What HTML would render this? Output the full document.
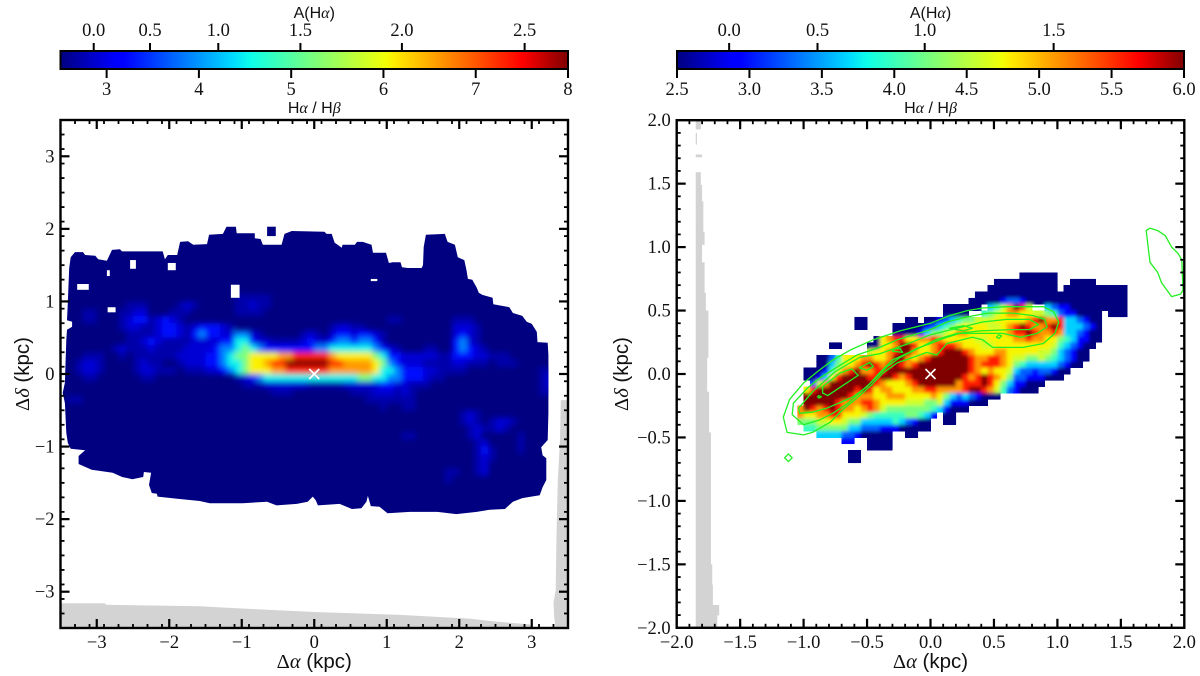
<!DOCTYPE html>
<html lang="en">
<head>
<meta charset="utf-8">
<title>Balmer decrement maps</title>
<style>
html,body{margin:0;padding:0;background:#fff}
svg{display:block}
text{font-family:"Liberation Serif",serif;fill:#111}
.sans{font-family:"Liberation Sans",sans-serif}
.it{font-style:italic;font-family:"Liberation Serif",serif}
</style>
</head>
<body>
<svg id="chart" xmlns="http://www.w3.org/2000/svg" width="1200" height="676" viewBox="0 0 1200 676">
  <defs>
    <filter id="blurL" filterUnits="userSpaceOnUse" x="0" y="200" width="600" height="400"><feGaussianBlur stdDeviation="3"/></filter>
    <filter id="blurR" filterUnits="userSpaceOnUse" x="700" y="200" width="500" height="300"><feGaussianBlur stdDeviation="1.9"/></filter>
    <linearGradient id="jetGrad" x1="0" x2="1" y1="0" y2="0">
      <stop offset="0" stop-color="#000080"/><stop offset="0.11" stop-color="#0000ff"/><stop offset="0.125" stop-color="#0000ff"/>
      <stop offset="0.34" stop-color="#00dbff"/><stop offset="0.375" stop-color="#0dffe9"/><stop offset="0.5" stop-color="#7bff7b"/>
      <stop offset="0.64" stop-color="#f1ff06"/><stop offset="0.66" stop-color="#ffea00"/><stop offset="0.89" stop-color="#ff1300"/>
      <stop offset="0.91" stop-color="#ff0000"/><stop offset="1" stop-color="#800000"/>
    </linearGradient>
    <clipPath id="clipL"><rect x="60" y="120" width="508" height="508"/></clipPath>
    <clipPath id="clipR"><rect x="677" y="120" width="507" height="508"/></clipPath>
    <clipPath id="shapeL"></clipPath>
    <clipPath id="shapeR"></clipPath>
  </defs>
</svg>
<script>
// ---------- colour-scale data ----------
const leftRatioTicks = [3,4,5,6,7,8];
const leftRatioLabels = ["3","4","5","6","7","8"];
const rightRatioTicks = [2.5,3,3.5,4,4.5,5,5.5,6];
const rightRatioLabels = ["2.5","3.0","3.5","4.0","4.5","5.0","5.5","6.0"];
const leftExtinctionAt = [2.86,3.47,4.21,5.1,6.2,7.53];
const leftExtinctionLabels = ["0.0","0.5","1.0","1.5","2.0","2.5"];
const rightExtinctionAt = [2.86,3.47,4.21,5.1];
const rightExtinctionLabels = ["0.0","0.5","1.0","1.5"];
// ---------- axis ticks ----------
const leftAxisTicks = [-3,-2,-1,0,1,2,3];
const rightAxisTicks = [-2,-1.5,-1,-0.5,0,0.5,1,1.5,2];
// ---------- left map: Halpha/Hbeta levels (one char per 0.1 kpc cell) ----------
const leftLevelRatio = [2.5,2.7,2.9,3.25,3.9,4.5,5.25,6.1,6.6,7.3,8];
const leftRows = [
"0000000000 0000000000 0000111110",
"0000000001 1100001210 0000112110",
"0001100011 2200011100 0000111100",
"0001100012 3312321000 0000000000 0000000000 0000011000 0000111000",
"0000000012 2112332123 3321000000 0000000122 1100000000 0000222100",
"0000000001 1112332134 3322442100 0001210233 2332100000 0000232100",
"0000000001 1232111122 2233553221 1112322344 3443100000 0000342100",
"0000000121 1121111222 2344565433 3333344555 5554321000 1100343210",
"0001110010 1111112222 3345667777 8899999877 7776533222 2211333221 11",
"0012210000 1211001222 3345567789 9aaaaaa998 8887643222 1111221110 111",
"0012210000 1221110111 2234567778 8999999888 8887554333 2211110000 00000011",
"0001100000 0110000000 0000123455 5555555555 5665544333 2110000000 00000012",
"0000000000 0000000000 0000011122 2222111112 2222332211 1000000000 00000012",
"0000000000 0000000000 0000000001 1100000000 1112221210 0000000000 00000011",
"0110000000 0000000000 0000000000 0000000000 0011111110",
"0000000000 0000000000 0000000000 0000000000 0000100110",
"0000000000 0000000000 0000000000 0000000000 0000000000 0000012100",
"0000000000 0000000000 0000000000 0000000000 0000000000 0000012101 221",
"0000000000 0000000000 0000000000 0000000000 0000000000 0000001211 21",
"0000000000 0000000000 0000000000 0000000000 0000000110 0000001200 0001",
"0000000000 0000000000 0000000000 0000000000 0000000000 0000000120 0001",
"0000000000 0000000000 0000000000 0000000000 0000000000 0000000131 0001",
"0000000000 0000000000 0000000000 0000000000 0000000000 0000000121",
"0000000000 0000000000 0000000000 0000000000 0000000000 0000000120",
"0000000000 0000000000 0000000000 0000000000 0000000000 0001100120",
"0000000000 0000000000 0000000000 0000000000 0000000000 0001000000"
];
// left map silhouette, kpc
const leftOutline = [[-3.36,1.61],[-3.30,1.68],[-3.19,1.68],[-3.16,1.64],[-3.02,1.63],[-2.98,1.58],[-2.86,1.56],[-2.79,1.71],[-2.68,1.72],[-2.65,1.69],[-2.45,1.69],[-2.09,1.69],[-2.06,1.58],[-2.02,1.64],[-1.89,1.64],[-1.85,1.82],[-1.74,1.83],[-1.67,1.78],[-1.48,1.79],[-1.45,1.92],[-1.26,1.93],[-1.21,2.03],[-1.08,2.03],[-1.07,1.94],[-0.82,1.94],[-0.82,1.87],[-0.74,1.86],[-0.71,1.78],[-0.45,1.78],[-0.41,1.93],[-0.31,1.97],[0.14,1.96],[0.17,1.93],[0.24,1.93],[0.28,1.81],[0.38,1.74],[0.39,1.78],[0.56,1.78],[0.59,1.82],[0.67,1.82],[0.79,1.78],[0.81,1.67],[0.99,1.67],[1.03,1.53],[1.08,1.54],[1.19,1.54],[1.21,1.47],[1.29,1.46],[1.48,1.46],[1.50,1.50],[1.51,1.75],[1.54,1.92],[1.80,1.93],[1.84,1.82],[1.94,1.78],[1.98,1.61],[2.07,1.57],[2.10,1.43],[2.12,1.31],[2.18,1.30],[2.24,1.19],[2.27,1.12],[2.32,1.09],[2.46,1.05],[2.47,0.96],[2.69,0.92],[2.74,0.84],[2.87,0.80],[2.93,0.72],[3.00,0.69],[3.07,0.58],[3.08,0.44],[3.22,0.43],[3.23,0.26],[3.23,-0.54],[3.22,-0.91],[3.13,-1.01],[3.15,-1.12],[3.20,-1.16],[3.20,-1.46],[3.15,-1.56],[3.11,-1.67],[2.87,-1.71],[2.74,-1.76],[2.63,-1.86],[2.42,-1.87],[2.24,-1.90],[1.96,-1.93],[1.70,-1.90],[1.32,-1.90],[1.01,-1.92],[0.90,-1.83],[0.78,-1.82],[0.74,-1.68],[0.72,-1.76],[0.65,-1.85],[0.52,-1.86],[0.35,-1.79],[0.05,-1.81],[0.02,-1.74],[-0.02,-1.69],[-0.09,-1.76],[-0.24,-1.79],[-0.52,-1.81],[-0.65,-1.76],[-0.99,-1.78],[-1.44,-1.78],[-1.58,-1.75],[-1.89,-1.72],[-2.16,-1.69],[-2.17,-1.65],[-2.24,-1.64],[-2.28,-1.53],[-2.25,-1.36],[-2.35,-1.35],[-2.36,-1.42],[-2.51,-1.45],[-2.65,-1.42],[-2.78,-1.36],[-3.07,-1.32],[-3.16,-1.28],[-3.25,-1.24],[-3.25,-1.13],[-3.16,-1.05],[-3.36,-1.03],[-3.40,-0.95],[-3.42,-0.81],[-3.44,-0.40],[-3.47,-0.26],[-3.44,-0.12],[-3.42,0.47],[-3.41,0.61],[-3.34,0.65],[-3.34,0.72],[-3.41,0.74],[-3.40,0.98],[-3.38,1.46]];
const leftIsland = [[-0.65,2.03],[-0.53,2.03],[-0.53,1.90],[-0.65,1.90]];
const leftHoles = [[-2.54,1.57,-2.46,1.45],[-3.27,1.24,-3.11,1.16],[-2.86,1.43,-2.82,1.35],[-2.02,1.53,-1.91,1.43],[-1.15,1.23,-1.03,1.05],[-2.85,0.92,-2.74,0.85],[0.78,1.31,0.87,1.28]];
const leftGreyBand = [[-3.5,-3.16],[-2.89,-3.16],[-2.87,-3.18],[-1.58,-3.20],[-1.03,-3.23],[0,-3.28],[1.18,-3.32],[2.14,-3.37],[2.49,-3.41],[2.97,-3.45],[3.03,-3.5],[-3.5,-3.5]];
const leftGreyStrip = [[3.40,-0.36],[3.39,-0.91],[3.36,-1.46],[3.34,-2.29],[3.33,-2.98],[3.30,-3.15],[3.31,-3.35],[3.33,-3.5],[3.5,-3.5],[3.5,-0.36]];
// ---------- right map: Halpha/Hbeta levels (one char per 0.05 kpc cell) ----------
const rightLevelRatio = [2.5,2.9,3.27,3.65,3.97,4.25,4.6,4.78,5.13,5.58,6];
const rightRows = [
".......... .......... .......... .......000 000",
".......... .......... .......... ...0000000 000..0000.",
".......... .......... .......... ..00000000 000.000000 0000",
".......... .......... .......... 0000000000 0000000000 0000",
".......... .......... .........0 0000122100 0000000000 0000",
".......... .......... .....00000 0.3468a96. .321100000 0000",
".......... .......... .....0000. .456788776 6542110000 .000",
".......... .00......0 0.00123455 6667777789 a889332100",
".......... .00....000 0012345677 7766789a98 89a9333210",
".......... .......000 0135567887 77777899a9 8898332100",
".......... ....078997 7889877777 6677778898 8775431100",
".......00. ...00778aa 9778999877 7667777777 776432100.",
".......... ...67789aa 87789aaa98 7778877777 66532100..",
".....00247 7788778aa8 789aaaaaa9 8899876655 65432100..",
".....00356 789a989a98 9aaaaaaaa9 8999875433 3332100...",
"...0001468 9a8899aaaa aaaaaaaaa9 8787763221 22100.....",
"...001379a aaa99aa989 aaaaaaaa98 9a98752211 1000......",
"....268aaa aaaa987778 9aaaaaa899 9a97531100 0.........",
"...79aaaaa a9a9788777 889988889a a986421000",
"...aaaaaaa 9888778887 7778753232 1000......",
"...aaaaa98 8899877776 6655631110 00........",
"..8a989a98 8789865555 555431000.",
"..87788997 7765444445 5431.00...",
"..55566776 5533333432 100..00...",
"...4455555 3322211100 000.......",
".....33332 2100000..0 0.........",
".........1 1..0000...",
".......... ...0000...",
".......... 00........",
".......... 00........"
];
const rightGreyEdgeY = [2.0,1.93,1.90,1.81,1.73,1.71,1.59,1.49,1.36,1.12,1.02,0.88,0.64,0.5,0.13,-0.14,-0.46,-0.7,-1.5,-1.66,-1.82,-1.9,-2.0];
const rightGreyEdgeX = [-1.81,null,-1.84,null,-1.80,null,-1.81,-1.80,-1.79,-1.78,-1.80,-1.78,-1.77,-1.75,-1.76,-1.745,-1.73,-1.73,-1.72,-1.715,-1.665,-1.68];
// ---------- CO contours, kpc ----------
const contourOuter = [[-1.13,-0.46],[-1.16,-0.34],[-1.11,-0.20],[-1.00,-0.07],[-0.89,0.02],[-0.77,0.11],[-0.63,0.19],[-0.45,0.27],[-0.24,0.34],[0,0.40],[0.15,0.46],[0.29,0.50],[0.41,0.52],[0.60,0.53],[0.89,0.53],[0.97,0.49],[1.01,0.41],[0.98,0.32],[0.89,0.24],[0.73,0.21],[0.49,0.21],[0.41,0.27],[0.33,0.29],[0.13,0.24],[0.05,0.15],[-0.03,0.17],[-0.14,0.13],[-0.26,0.09],[-0.37,0.01],[-0.48,-0.10],[-0.58,-0.19],[-0.69,-0.28],[-0.79,-0.38],[-0.93,-0.46],[-1.00,-0.48]];
const contourMiddle = [[-1.00,-0.40],[-1.09,-0.32],[-1.08,-0.23],[-0.97,-0.11],[-0.87,-0.03],[-0.71,0.07],[-0.58,0.15],[-0.40,0.21],[-0.26,0.27],[0,0.35],[0.13,0.41],[0.29,0.45],[0.45,0.48],[0.65,0.48],[0.81,0.46],[0.90,0.43],[0.92,0.37],[0.84,0.32],[0.71,0.29],[0.57,0.32],[0.39,0.32],[0.23,0.32],[0.10,0.28],[0,0.24],[-0.11,0.20],[-0.24,0.13],[-0.34,0.06],[-0.45,-0.05],[-0.56,-0.15],[-0.65,-0.23],[-0.77,-0.31],[-0.87,-0.36]];
const contourInner = [[-1.03,-0.31],[-1.04,-0.27],[-0.93,-0.14],[-0.75,0.02],[-0.56,0.13],[-0.40,0.16],[-0.20,0.23],[0,0.31],[0.21,0.36],[0.41,0.41],[0.60,0.43],[0.78,0.43],[0.85,0.39],[0.78,0.35],[0.63,0.35],[0.39,0.34],[0.21,0.32],[0.04,0.27],[-0.12,0.19],[-0.30,0.11],[-0.40,0.01],[-0.50,-0.10],[-0.61,-0.18],[-0.70,-0.22],[-0.82,-0.27],[-0.93,-0.30]];
const contourLobe = [[-0.85,-0.15],[-0.81,-0.17],[-0.57,-0.01],[-0.62,0.04],[-0.71,0.01],[-0.85,-0.10]];
const contourKnotA = [[-0.56,0.05],[-0.50,0.03],[-0.45,0.06],[-0.48,0.09]];
const contourKnotB = [[-0.30,0.18],[-0.22,0.17],[-0.24,0.20],[-0.28,0.20]];
const contourKnotC = [[0.15,0.36],[0.26,0.34],[0.33,0.36],[0.26,0.38]];
const contourKnotD = [[0.52,0.29],[0.54,0.28],[0.56,0.30],[0.54,0.31]];
const contourKnotE = [[-1.15,-0.66],[-1.12,-0.69],[-1.09,-0.66],[-1.12,-0.63]];
const contourKnotF = [[-0.89,-0.18],[-0.88,-0.19],[-0.86,-0.18],[-0.88,-0.17]];
const contourEast = [[1.70,1.13],[1.73,1.15],[1.79,1.13],[1.85,1.09],[1.90,1.00],[1.95,0.95],[1.98,0.90],[1.99,0.66],[1.97,0.63],[1.90,0.61],[1.82,0.72],[1.79,0.80],[1.73,0.88]];

// ---------- axis functions ----------
const svg = document.getElementById('chart');
const NS = 'http://www.w3.org/2000/svg';
const xL = k => 60.5 + (k + 3.5) * 507.5 / 7;
const yL = k => 374 - k * 72.57;
const xR = k => 930.5 + k * 126.9;
const yR = k => 374 - k * 126.9;
const barL = r => 60.5 + (r - 2.5) * 507.5 / 5.5;
const barR = r => 677 + (r - 2.5) * 507 / 3.5;

function jet(t) {
  t = Math.max(0, Math.min(1, t));
  const ch = (pts) => {
    for (let i = 1; i < pts.length; i++) {
      if (t <= pts[i][0]) {
        const a = pts[i - 1], b = pts[i];
        return a[1] + (b[1] - a[1]) * (t - a[0]) / (b[0] - a[0]);
      }
    }
    return pts[pts.length - 1][1];
  };
  const r = ch([[0,0],[0.35,0],[0.66,1],[0.89,1],[1,0.5]]);
  const g = ch([[0,0],[0.125,0],[0.375,1],[0.64,1],[0.91,0],[1,0]]);
  const b = ch([[0,0.5],[0.11,1],[0.34,1],[0.65,0],[1,0]]);
  return 'rgb(' + Math.round(r * 255) + ',' + Math.round(g * 255) + ',' + Math.round(b * 255) + ')';
}
function make(tag, attrs, parent) {
  const el = document.createElementNS(NS, tag);
  for (const k in attrs) el.setAttribute(k, attrs[k]);
  (parent || svg).appendChild(el);
  return el;
}
function polyPoints(list, fx, fy) {
  return list.map(p => fx(p[0]).toFixed(1) + ',' + fy(p[1]).toFixed(1)).join(' ');
}
function label(txt, x, y, anchor, name, parent) {
  const t = make('text', {x: x, y: y, 'text-anchor': anchor, 'font-size': 18.5}, parent);
  t.textContent = txt;
  
  
  return t;
}
function fmtTick(v, decimals) {
  const s = Math.abs(v).toFixed(decimals);
  return (v < 0 ? '\u2212' : '') + s;
}
function richText(parts, x, y, size, anchor, name, rotate) {
  const t = make('text', {x: x, y: y, 'text-anchor': anchor, 'font-size': size});
  if (rotate) t.setAttribute('transform', 'rotate(-90 ' + x + ' ' + y + ')');
  
  
  parts.forEach(p => {
    const s = document.createElementNS(NS, 'tspan');
    s.setAttribute('class', p[1]);
    s.textContent = p[0];
    t.appendChild(s);
  });
  return t;
}

// ---------- colour bars ----------
function colorbar(side, x0, x1, scale, botTicks, botLabels, topAt, topLabels) {
  const g = make('g', {});
  
  
  const r = make('rect', {x: x0, y: 51, width: x1 - x0, height: 18, fill: 'url(#jetGrad)', stroke: '#000', 'stroke-width': 2}, g);
  
  
  botTicks.forEach((v, i) => {
    const x = scale(v);
    const t = make('line', {x1: x, x2: x, y1: 69, y2: 78, stroke: '#000', 'stroke-width': 2}, g);
    
    
    label(botLabels[i], x, 95, 'middle', side + '-ratio-tick-label', g);
  });
  topAt.forEach((v, i) => {
    const x = scale(v);
    const t = make('line', {x1: x, x2: x, y1: 43, y2: 51, stroke: '#000', 'stroke-width': 2}, g);
    
    
    label(topLabels[i], x, 36, 'middle', side + '-extinction-tick-label', g);
  });
  const cx = (x0 + x1) / 2;
  richText([['A(H', 'sans'], ['\u03b1', 'it'], [')', 'sans']], cx, 18, 16, 'middle', side + '-extinction-title');
  richText([['H', 'sans'], ['\u03b1', 'it'], [' / H', 'sans'], ['\u03b2', 'it']], cx, 113, 16, 'middle', side + '-ratio-title');
}
colorbar('left', 60.5, 568, barL, leftRatioTicks, leftRatioLabels, leftExtinctionAt, leftExtinctionLabels);
colorbar('right', 677, 1184, barR, rightRatioTicks, rightRatioLabels, rightExtinctionAt, rightExtinctionLabels);

// ---------- left panel ----------
const leftPanel = make('g', {'clip-path': 'url(#clipL)'});


const leftBand = make('polygon', {points: polyPoints(leftGreyBand, xL, yL), fill: '#d3d3d3'}, leftPanel);


const leftStrip = make('polygon', {points: polyPoints(leftGreyStrip, xL, yL), fill: '#d3d3d3'}, leftPanel);


const leftBase = make('polygon', {points: polyPoints(leftOutline, xL, yL), fill: jet(0)}, leftPanel);


const leftIsle = make('polygon', {points: polyPoints(leftIsland, xL, yL), fill: jet(0)}, leftPanel);


make('polygon', {points: polyPoints(leftOutline, xL, yL)}, document.getElementById('shapeL'));
const leftClipWrap = make('g', {'clip-path': 'url(#shapeL)'}, leftPanel);
const leftCells = make('g', {filter: 'url(#blurL)'}, leftClipWrap);


const leftCellW = xL(0.1) - xL(0);
const leftCellH = yL(0) - yL(0.1);
leftRows.forEach((row, r) => {
  const chars = row.replace(/ /g, '');
  for (let c = 0; c < chars.length; c++) {
    if (chars[c] === '.' || chars[c] === '0') continue;
    const ratio = leftLevelRatio[parseInt(chars[c], 16)];
    const cell = make('rect', {x: xL(-3.5 + 0.1 * c), y: yL(1.1 - 0.1 * r), width: leftCellW + 0.3, height: leftCellH + 0.3, fill: jet((ratio - 2.5) / 5.5)}, leftCells);
    
    
  }
});
leftHoles.forEach(h => {
  const hole = make('rect', {x: xL(h[0]), y: yL(h[1]), width: xL(h[2]) - xL(h[0]), height: yL(h[3]) - yL(h[1]), fill: '#fff'}, leftPanel);
  
  
});

// ---------- right panel ----------
const rightPanel = make('g', {'clip-path': 'url(#clipR)'});


rightGreyEdgeX.forEach((xe, i) => {
  if (xe === null) return;
  const seg = make('rect', {x: xR(-1.85), y: yR(rightGreyEdgeY[i]), width: xR(xe) - xR(-1.85), height: yR(rightGreyEdgeY[i + 1]) - yR(rightGreyEdgeY[i]) + 0.3, fill: '#d3d3d3'}, rightPanel);
  
  
});
const rightCrisp = make('g', {'shape-rendering': 'crispEdges'}, rightPanel);


const rightClipWrap = make('g', {'clip-path': 'url(#shapeR)'}, rightPanel);
const rightBlur = make('g', {filter: 'url(#blurR)'}, rightClipWrap);


const shapeR = document.getElementById('shapeR');
const rightCellW = xR(0.05) - xR(0);
const rightCellH = yR(0) - yR(0.05);
rightRows.forEach((row, r) => {
  const chars = row.replace(/ /g, '');
  for (let c = 0; c < chars.length; c++) {
    if (chars[c] === '.') continue;
    const ratio = rightLevelRatio[parseInt(chars[c], 16)];
    const fill = jet((ratio - 2.5) / 3.5);
    const x = xR(-1.15 + 0.05 * c), y = yR(0.8 - 0.05 * r);
    const cell = make('rect', {x: x, y: y, width: rightCellW + 0.3, height: rightCellH + 0.3, fill: fill}, rightCrisp);
    
    
    make('rect', {x: x, y: y, width: rightCellW + 0.3, height: rightCellH + 0.3}, shapeR);
    const soft = make('rect', {x: x, y: y, width: rightCellW + 0.3, height: rightCellH + 0.3, fill: fill}, rightBlur);
    
    
  }
});
const contours = [contourOuter, contourMiddle, contourInner, contourLobe, contourKnotA, contourKnotB, contourKnotC, contourKnotD, contourKnotE, contourKnotF, contourEast];
contours.forEach(list => {
  const line = make('polygon', {points: polyPoints(list, xR, yR), fill: 'none', stroke: '#22f022', 'stroke-width': 1.3, 'stroke-linejoin': 'round'}, rightPanel);
  
  
});

// ---------- centre markers ----------
function marker(side, cx, cy) {
  const g = make('g', {stroke: '#fff', 'stroke-width': 1.6});
  
  
  make('line', {x1: cx - 5, y1: cy - 5, x2: cx + 5, y2: cy + 5}, g);
  make('line', {x1: cx - 5, y1: cy + 5, x2: cx + 5, y2: cy - 5}, g);
}
marker('left', xL(0), yL(0));
marker('right', xR(0), yR(0));

// ---------- axes frames and ticks ----------
function axes(side, fx, fy, lo, hi, majors, minorStep, decimals) {
  const g = make('g', {stroke: '#000'});
  
  
  const x0 = fx(lo), x1 = fx(hi), y0 = fy(hi), y1 = fy(lo);
  const tick = (v, len, name) => {
    const px = fx(v), py = fy(v);
    [[px, y1, px, y1 - len], [px, y0, px, y0 + len], [x0, py, x0 + len, py], [x1, py, x1 - len, py]].forEach(a => {
      const l = make('line', {x1: a[0], y1: a[1], x2: a[2], y2: a[3], 'stroke-width': len > 5 ? 2.2 : 1.8}, g);
      
      
    });
  };
  const n = Math.round((hi - lo) / minorStep);
  for (let i = 1; i < n; i++) tick(lo + i * minorStep, 4, 'minor-tick');
  majors.forEach(v => {
    if (v > lo && v < hi) tick(v, 9, 'major-tick');
  });
  const frame = make('rect', {x: x0, y: y0, width: x1 - x0, height: y1 - y0, fill: 'none', 'stroke-width': 2.4}, g);
  
  
  majors.forEach(v => {
    label(fmtTick(v, decimals), fx(v), 648, 'middle', side + '-x-tick-label').setAttribute('stroke', 'none');
    label(fmtTick(v, decimals), x0 - 6, fy(v) + 6, 'end', side + '-y-tick-label').setAttribute('stroke', 'none');
  });
}
axes('left', xL, yL, -3.5, 3.5, leftAxisTicks, 0.2, 0);
axes('right', xR, yR, -2, 2, rightAxisTicks, 0.1, 1);

// ---------- axis titles ----------
richText([['\u0394', ''], ['\u03b1', 'it'], [' (kpc)', 'sans']], xL(0), 668, 20.5, 'middle', 'left-x-axis-title');
richText([['\u0394', ''], ['\u03b1', 'it'], [' (kpc)', 'sans']], xR(0), 668, 20.5, 'middle', 'right-x-axis-title');
richText([['\u0394', ''], ['\u03b4', 'it'], [' (kpc)', 'sans']], 29, 374, 20.5, 'middle', 'left-y-axis-title', true);
richText([['\u0394', ''], ['\u03b4', 'it'], [' (kpc)', 'sans']], 628, 374, 20.5, 'middle', 'right-y-axis-title', true);
</script>
</body>
</html>
